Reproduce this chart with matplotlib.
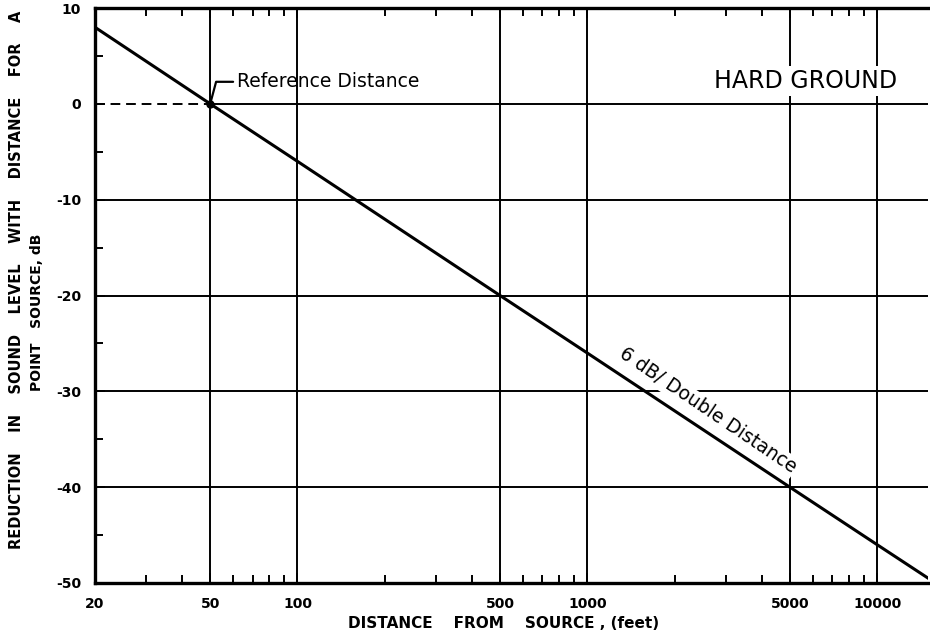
"""Sound level reduction with distance, point source over hard ground."""

import numpy as np
import matplotlib
matplotlib.use('Agg')
import matplotlib.pyplot as plt
from matplotlib.ticker import FixedLocator, NullFormatter

plt.rcParams['axes.unicode_minus'] = False

# line (dB relative to 50 ft reference)
distance_ft = [20, 50, 100, 500, 1000, 5000, 10000, 15000]
level_db = [8, 0, -6, -20, -26, -40, -46, -49.5]

x_major = [20, 50, 100, 500, 1000, 5000, 10000]
x_major_labels = ['20', '50', '100', '500', '1000', '5000', '10000']
x_minor = [30, 40, 60, 70, 80, 90, 200, 300, 400, 600, 700, 800, 900,
           2000, 3000, 4000, 6000, 7000, 8000, 9000]
y_major = [10, 0, -10, -20, -30, -40, -50]
y_minor = [5, -5, -15, -25, -35, -45]

v_grid = [50, 100, 500, 1000, 5000, 10000]
h_grid = [-10, -20, -30, -40]
ref_distance = 50

fig = plt.figure(figsize=(9.3, 6.41), dpi=100)
ax = fig.add_axes([0.102, 0.0905, 0.896, 0.897])

ax.set_xscale('log')
ax.set_xlim(20, 15000)
ax.set_ylim(-50, 10)

# grid drawn by hand so the 0 dB line can be dashed left of reference
for xv in v_grid:
    ax.axvline(xv, color='black', lw=1.4, zorder=1)
for yv in h_grid:
    ax.axhline(yv, color='black', lw=1.4, zorder=1)
ax.hlines(0, 20, ref_distance, color='black', lw=1.4, linestyles=(0, (5, 3)), zorder=1)
ax.hlines(0, ref_distance, 15000, color='black', lw=1.4, zorder=1)

ax.plot(distance_ft, level_db, color='black', lw=2.2, zorder=4, clip_on=True)
ax.plot([ref_distance], [0], 'o', color='black', ms=5, zorder=5)

# ticks
ax.xaxis.set_major_locator(FixedLocator(x_major))
ax.xaxis.set_minor_locator(FixedLocator(x_minor))
ax.set_xticklabels(x_major_labels)
ax.xaxis.set_minor_formatter(NullFormatter())
ax.set_yticks(y_major)
ax.set_yticks(y_minor, minor=True)
ax.tick_params(axis='both', which='both', direction='in', top=True, right=False,
               width=1.4, labelsize=10)
ax.tick_params(axis='both', which='major', length=7, pad=10)
ax.tick_params(axis='both', which='minor', length=6)
for lab in ax.get_xticklabels() + ax.get_yticklabels():
    lab.set_fontweight('bold')

for side in ['top', 'bottom', 'left']:
    ax.spines[side].set_linewidth(2.4)
ax.spines['right'].set_visible(False)

# annotations
ax.annotate('Reference Distance', xy=(ref_distance, 0), xytext=(62, 2.3),
            fontsize=13.5, ha='left', va='center', zorder=6,
            arrowprops=dict(arrowstyle='-', lw=1.6, color='black',
                            connectionstyle='angle,angleA=0,angleB=75,rad=0',
                            shrinkA=1, shrinkB=0))

ax.text(5650, 2.4, 'HARD GROUND', fontsize=17, ha='center', va='center', zorder=3,
        bbox=dict(facecolor='white', edgecolor='none', pad=2))

ax.text(2600, -32.0, '6 dB/ Double Distance', fontsize=13.5, rotation=-34,
        ha='center', va='center', rotation_mode='anchor', zorder=3,
        bbox=dict(facecolor='white', edgecolor='none', pad=1))

# axis titles
fig.text(0.018, 0.563, 'REDUCTION    IN    SOUND    LEVEL    WITH    DISTANCE    FOR    A',
         rotation=90, ha='center', va='center', fontsize=10.5, fontweight='bold')
fig.text(0.040, 0.512, 'POINT   SOURCE, dB',
         rotation=90, ha='center', va='center', fontsize=10, fontweight='bold')
fig.text(0.541, 0.028, 'DISTANCE    FROM    SOURCE , (feet)',
         ha='center', va='center', fontsize=11, fontweight='bold')

fig.savefig('out.png', dpi=100, facecolor='white')
